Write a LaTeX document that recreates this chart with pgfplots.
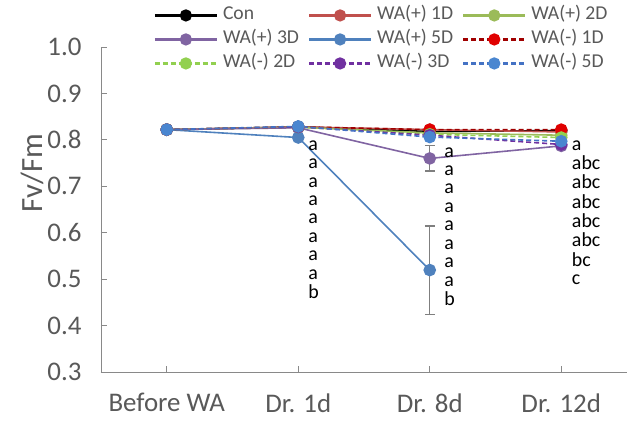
\documentclass[border=0pt]{standalone}
\usepackage{fontspec}
\setmainfont{Carlito}
\usepackage{pgfplots}
\pgfplotsset{compat=1.18}
\definecolor{axgray}{HTML}{898989}
\definecolor{txtgray}{HTML}{595959}
\definecolor{errgray}{HTML}{7F7F7F}
\definecolor{cPR}{HTML}{C0504D}
\definecolor{cPG}{HTML}{9BBB59}
\definecolor{cPP}{HTML}{8064A2}
\definecolor{cPB}{HTML}{4F81BD}
\definecolor{cMRl}{HTML}{A00000}
\definecolor{cMRm}{HTML}{E00000}
\definecolor{cMG}{HTML}{92D050}
\definecolor{cMP}{HTML}{7030A0}
\definecolor{cMBl}{HTML}{4472C4}
\definecolor{cMBm}{HTML}{4A86D0}
\begin{document}
\begin{tikzpicture}
\begin{axis}[name=ax, scale only axis, width=526bp, height=325bp,
 xmin=-0.5, xmax=3.5, ymin=0.3, ymax=1.0,
 axis lines*=left, axis line style={axgray, line width=0.8bp},
 xtick={0,1,2,3}, xticklabels={Before WA, Dr. 1d, Dr. 8d, Dr. 12d},
 ytick={0.3,0.4,0.5,0.6,0.7,0.8,0.9,1.0},
 yticklabel style={/pgf/number format/.cd, fixed, fixed zerofill, precision=1, /tikz/.cd, xshift=-16bp},
 xticklabel style={yshift=-18bp},
 /pgf/number format/assume math mode=true,
 tick style={axgray, line width=0.8bp}, major tick length=6bp, tick align=inside,
 ticklabel style={font=\fontsize{27}{31}\selectfont, text=txtgray},
 ylabel={Fv/Fm}, ylabel style={font=\fontsize{31}{35}\selectfont, text=txtgray, at={(axis description cs:-0.131,0.612)}, anchor=center},
 legend columns=3,
 legend style={at={(axis description cs:0.1,1.13)}, anchor=north west, draw=none, fill=none,
   font=\fontsize{19.7}{22}\selectfont, text=txtgray, column sep=0bp, row sep=3bp, inner sep=0bp,
   nodes={inner sep=2bp, text height=13bp, text depth=4bp}},
 legend cell align=left,
 legend image code/.code={\draw[mark repeat=2,mark phase=2,#1,line width=2.2bp,mark size=5bp] plot coordinates {(0bp,0bp) (31bp,0bp) (62bp,0bp)};},
 every axis plot/.append style={line width=1.6bp, mark=*, mark size=5.5bp},
 clip=false]

% error bars
\addplot[forget plot, draw=none, mark=none, error bars/.cd, y dir=both, y explicit,
  error bar style={errgray, line width=1.2bp}, error mark options={errgray, line width=1.2bp, mark size=5bp, rotate=90}]
  coordinates {(2,0.760) +- (0,0.027) (2,0.5195) +- (0,0.095)};

\addplot[black, mark options={fill=black}] coordinates {(0,0.822) (1,0.828) (2,0.818) (3,0.820)};
\addlegendentry{\makebox[86bp][l]{\hspace{3bp}Con}}
\addplot[cPR, mark options={fill=cPR}] coordinates {(0,0.822) (1,0.828) (2,0.822) (3,0.817)};
\addlegendentry{\makebox[86bp][l]{\hspace{3bp}WA(+) 1D}}
\addplot[cPG, mark options={fill=cPG}] coordinates {(0,0.822) (1,0.827) (2,0.815) (3,0.810)};
\addlegendentry{\makebox[86bp][l]{\hspace{3bp}WA(+) 2D}}
\addplot[cPP, mark options={fill=cPP}] coordinates {(0,0.822) (1,0.826) (2,0.760) (3,0.787)};
\addlegendentry{\makebox[86bp][l]{\hspace{3bp}WA(+) 3D}}
\addplot[cPB, mark options={fill=cPB}] coordinates {(0,0.822) (1,0.805) (2,0.5195)};
\addlegendentry{\makebox[86bp][l]{\hspace{3bp}WA(+) 5D}}
\addplot[cMRl, dash pattern=on 5bp off 3bp, mark options={solid, fill=cMRm, draw=cMRm}] coordinates {(0,0.822) (1,0.828) (2,0.822) (3,0.822)};
\addlegendentry{\makebox[86bp][l]{\hspace{3bp}WA(-) 1D}}
\addplot[cMG, dash pattern=on 5bp off 3bp, mark options={solid, fill=cMG}] coordinates {(0,0.822) (1,0.828) (2,0.812) (3,0.805)};
\addlegendentry{\makebox[86bp][l]{\hspace{3bp}WA(-) 2D}}
\addplot[cMP, dash pattern=on 5bp off 3bp, mark options={solid, fill=cMP}] coordinates {(0,0.822) (1,0.828) (2,0.810) (3,0.790)};
\addlegendentry{\makebox[86bp][l]{\hspace{3bp}WA(-) 3D}}
\addplot[cMBl, dash pattern=on 5bp off 3bp, mark options={solid, fill=cMBm, draw=cMBm}] coordinates {(0,0.822) (1,0.829) (2,0.806) (3,0.797)};
\addlegendentry{\makebox[86bp][l]{\hspace{3bp}WA(-) 5D}}

% significance letters
\node[anchor=north west, inner sep=0bp, font=\fontsize{20}{18.5}\selectfont, text=black] at (axis cs:1.075,0.806)
 {\begin{tabular}{@{}l@{}}a\\a\\a\\a\\a\\a\\a\\a\\b\end{tabular}};
\node[anchor=north west, inner sep=0bp, font=\fontsize{20}{18.5}\selectfont, text=black] at (axis cs:2.11,0.791)
 {\begin{tabular}{@{}l@{}}a\\a\\a\\a\\a\\a\\a\\a\\b\end{tabular}};
\node[anchor=north west, inner sep=0bp, font=\fontsize{20}{18.5}\selectfont, text=black] at (axis cs:3.08,0.806)
 {\begin{tabular}{@{}l@{}}a\\abc\\abc\\abc\\abc\\abc\\bc\\c\end{tabular}};
\end{axis}
\pgfresetboundingbox
\path (ax.south west) ++(-101bp,-51bp) coordinate (bl);
\path (ax.north east) ++(1bp,47bp) coordinate (tr);
\path (bl) rectangle (tr);
\end{tikzpicture}
\end{document}
